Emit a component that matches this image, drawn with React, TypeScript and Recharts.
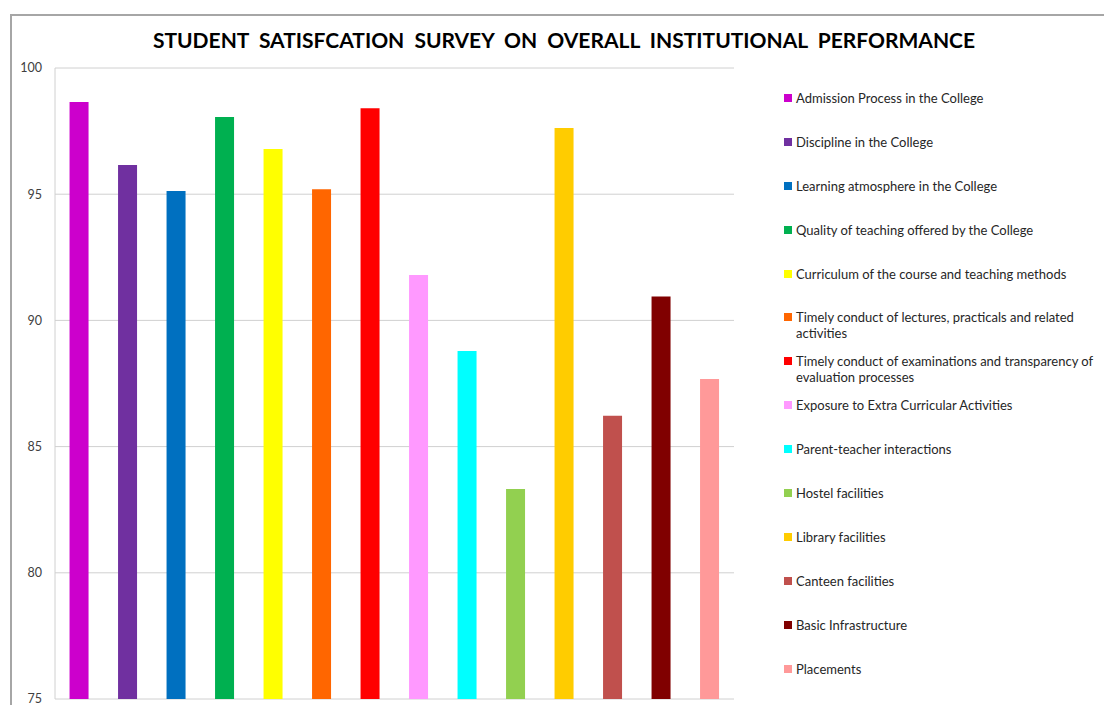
import React from "react";
import { Bar, BarChart, CartesianGrid, Cell, XAxis, YAxis } from "recharts";

const categories = [
  "Admission Process in the College",
  "Discipline in the College",
  "Learning atmosphere in the College",
  "Quality of teaching offered by the College",
  "Curriculum of the course and teaching methods",
  "Timely conduct of lectures, practicals and related activities",
  "Timely conduct of examinations and transparency of evaluation processes",
  "Exposure to Extra Curricular Activities",
  "Parent-teacher interactions",
  "Hostel facilities",
  "Library facilities",
  "Canteen facilities",
  "Basic Infrastructure",
  "Placements",
];

const scores = [98.65, 96.16, 95.13, 98.06, 96.79, 95.2, 98.41, 91.8, 88.79, 83.32, 97.62, 86.22, 90.95, 87.68];

const colors = [
  "#CC00CC", "#7030A0", "#0070C0", "#00B050", "#FFFF00", "#FF6600", "#FF0000",
  "#FF99FF", "#00FFFF", "#92D050", "#FFCC00", "#C0504D", "#800000", "#FF9999",
];

const yTicks = [75, 80, 85, 90, 95, 100];

const data = categories.map((name, i) => ({ name, score: scores[i] }));

const FONT = "Lato, 'Open Sans', sans-serif";

// legend drawn from the same arrays, one fixed-height row per category
const LegendList = () => (
  <div style={{ fontFamily: FONT, fontSize: 13, color: "#262626" }}>
    {categories.map((name, i) => (
      <div key={name} style={{ height: 43.9, display: "flex", alignItems: "flex-start" }}>
        <span
          style={{
            width: 8,
            height: 8,
            background: colors[i],
            marginTop: 4,
            marginRight: 4,
            flexShrink: 0,
          }}
        />
        <span style={{ lineHeight: "16px", maxWidth: 306 }}>{name}</span>
      </div>
    ))}
  </div>
);

export default function App() {
  return (
    <div style={{ position: "absolute", left: 0, top: 0, width: 1104, height: 705, overflow: "hidden", background: "#fff" }}>
      <div
        style={{
          position: "absolute",
          left: 10,
          top: 14,
          width: 1110,
          height: 720,
          border: "2px solid #a6a6a6",
        }}
      />
      <div
        style={{
          position: "absolute",
          left: 0,
          top: 27,
          width: 1128,
          textAlign: "center",
          fontFamily: FONT,
          fontWeight: 700,
          fontSize: 21,
          color: "#000",
          wordSpacing: 5,
        }}
      >
        STUDENT SATISFCATION SURVEY ON OVERALL INSTITUTIONAL PERFORMANCE
      </div>
      <div style={{ position: "absolute", left: 0, top: 0 }}>
        <BarChart
          width={1104}
          height={705}
          data={data}
          margin={{ top: 68, right: 370, bottom: 6, left: 10 }}
          barCategoryGap="30%"
        >
          <CartesianGrid vertical={false} stroke="#d0d0d0" />
          <XAxis dataKey="name" hide />
          <YAxis
            width={45}
            domain={[75, 100]}
            ticks={yTicks}
            interval={0}
            allowDataOverflow
            tickLine={false}
            tickSize={0}
            tickMargin={13}
            axisLine={{ stroke: "#d0d0d0" }}
            tick={{ fontFamily: FONT, fontSize: 12.5, fill: "#404040" }}
          />
          <Bar dataKey="score" isAnimationActive={false}>
            {data.map((d, i) => (
              <Cell key={d.name} fill={colors[i]} />
            ))}
          </Bar>
        </BarChart>
      </div>
      <div style={{ position: "absolute", left: 784, top: 90, width: 320 }}>
        <LegendList />
      </div>
    </div>
  );
}
